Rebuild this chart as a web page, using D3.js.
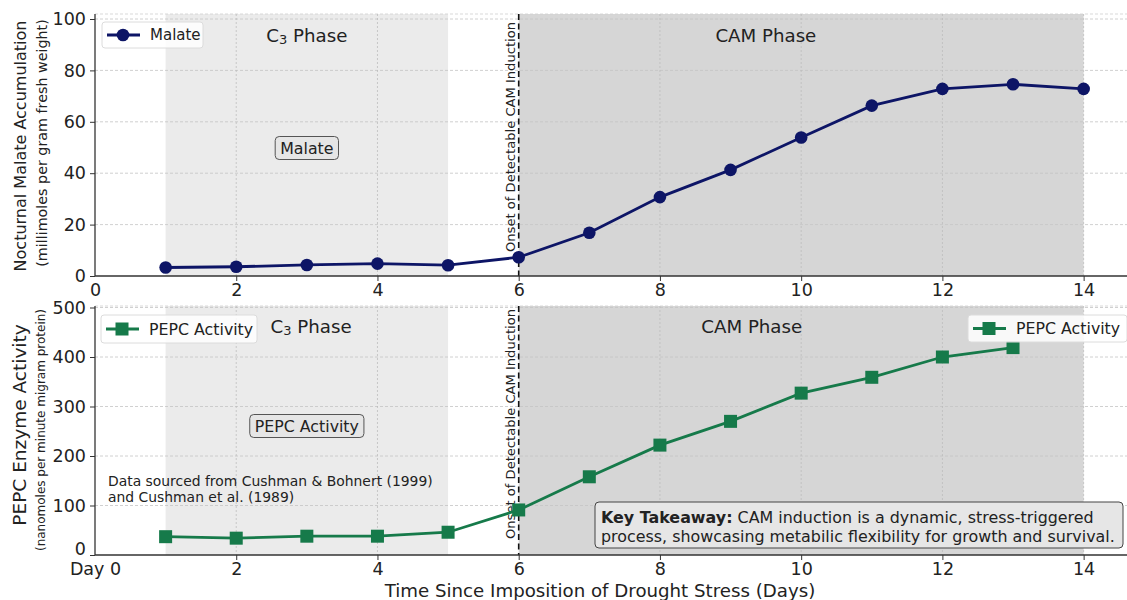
<!DOCTYPE html>
<html><head><meta charset="utf-8">
<script src="https://cdn.jsdelivr.net/npm/d3@7"></script>
<style>body{margin:0;background:#fff} svg{display:block;font-family:"DejaVu Sans",sans-serif}</style>
</head><body><svg id="c" width="1127" height="600"></svg>
<script>
const malateDays = [1,2,3,4,5,6,7,8,9,10,11,12,13,14];
const malate = [3.3,3.6,4.3,4.8,4.2,7.3,16.8,30.7,41.3,53.9,66.3,72.8,74.6,72.8];
const pepcDays = [1,2,3,4,5,6,7,8,9,10,11,12,13];
const pepc = [37,34,38,38,46,91,158,222,270,327,359,400,419];
const xTicks = [0,2,4,6,8,10,12,14];
const malateTicks = [0,20,40,60,80,100];
const pepcTicks = [0,100,200,300,400,500];
const phaseNames = ["C3","CAM"];
const phaseStart = [1,6];
const phaseEnd = [5,14];
const phaseFill = ["#ebebeb","#d6d6d6"];
const onsetDay = 6;

const svg = d3.select("#c");
const x = d3.scaleLinear().domain([0,14.6]).range([95,1126]);
const navy = "#0d1566", green = "#167a4a";

const panels = [
  {top:14, bottom:276, y:d3.scaleLinear().domain([0,100]).range([276,19]), ticks:malateTicks,
   xs:malateDays, vals:malate, color:navy, marker:"circle", zeroLabel:"0",
   phaseLabelX:[3,9.5], phaseLabelY:35, boxText:"Malate", boxY:148, onsetY:137},
  {top:306, bottom:555, y:d3.scaleLinear().domain([0,500]).range([555,307.5]), ticks:pepcTicks,
   xs:pepcDays, vals:pepc, color:green, marker:"square", zeroLabel:"Day 0",
   phaseLabelX:[3.06,9.3], phaseLabelY:326, boxText:"PEPC Activity", boxY:426, onsetY:424}
];

panels.forEach((p,pi)=>{
  const g = svg.append("g");
  phaseNames.forEach((n,i)=>{
    g.append("rect").attr("x",x(phaseStart[i])).attr("y",p.top)
      .attr("width",x(phaseEnd[i])-x(phaseStart[i])).attr("height",p.bottom-p.top)
      .attr("fill",phaseFill[i]);
  });
  g.append("line").attr("x1",x(0)).attr("x2",1127).attr("y1",p.top).attr("y2",p.top)
    .attr("stroke","#cfcfcf").attr("stroke-dasharray","3,2").attr("stroke-width",0.8);
  p.ticks.filter(t=>t>0).forEach(t=>{
    g.append("line").attr("x1",x(0)).attr("x2",1127).attr("y1",p.y(t)).attr("y2",p.y(t))
      .attr("stroke","#c4c4c4").attr("stroke-dasharray","3,2").attr("stroke-width",0.8);
  });
  xTicks.filter(t=>t>0 && t!==onsetDay).forEach(t=>{
    g.append("line").attr("x1",x(t)).attr("x2",x(t)).attr("y1",p.top).attr("y2",p.bottom)
      .attr("stroke","#b8b8b8").attr("stroke-dasharray","2,2").attr("stroke-width",0.7);
  });
  g.append("line").attr("x1",x(onsetDay)).attr("x2",x(onsetDay)).attr("y1",p.top).attr("y2",p.bottom)
    .attr("stroke","#111").attr("stroke-width",1.6).attr("stroke-dasharray","6,3.5");
  g.append("text").attr("transform",`translate(${x(onsetDay)-8.5},${p.onsetY}) rotate(-90)`)
    .attr("text-anchor","middle").attr("dominant-baseline","central")
    .attr("font-size",13.1).attr("fill","#222").text("Onset of Detectable CAM Induction");
  phaseNames.forEach((n,i)=>{
    const t = g.append("text").attr("x",x(p.phaseLabelX[i])).attr("y",p.phaseLabelY)
      .attr("text-anchor","middle").attr("dominant-baseline","central")
      .attr("font-size",18.2).attr("fill","#222");
    if(n==="C3"){
      t.append("tspan").text("C");
      t.append("tspan").attr("font-size",13).attr("dy",4).text("3");
      t.append("tspan").attr("dy",-4).text(" Phase");
    } else t.text(n+" Phase");
  });
  const bt = g.append("text").attr("x",x(3)).attr("y",p.boxY).attr("text-anchor","middle")
    .attr("dominant-baseline","central").attr("font-size",15.8).attr("fill","#222").text(p.boxText);
  const bb = bt.node().getBBox();
  g.insert("rect","text:last-of-type").attr("x",bb.x-5).attr("y",bb.y-2).attr("width",bb.width+10)
    .attr("height",bb.height+4).attr("rx",4).attr("fill","#e6e6e6").attr("stroke","#555").attr("stroke-width",1);
  bt.raise();
  const yAxis = d3.axisLeft(p.y).tickValues(p.ticks).tickSize(5).tickPadding(4);
  const ya = g.append("g").attr("transform",`translate(${x(0)},0)`).call(yAxis);
  ya.select(".domain").attr("d",`M-0,${p.top}V${p.bottom}`).attr("stroke","#333").attr("stroke-width",1.3);
  ya.selectAll("text").attr("font-size",17.5).attr("fill","#222").attr("font-family","DejaVu Sans");
  ya.selectAll(".tick line").attr("stroke","#333");
  if(pi===1) ya.selectAll(".tick").filter(d=>d===0).select("text").attr("dy","-0.05em");
  const xAxis = d3.axisBottom(x).tickValues(xTicks).tickSize(5).tickPadding(3)
    .tickFormat(d=> d===0 ? p.zeroLabel : d);
  const xa = g.append("g").attr("transform",`translate(0,${p.bottom})`).call(xAxis);
  xa.select(".domain").attr("d",`M${x(0)},0H1127`).attr("stroke","#333").attr("stroke-width",1.3);
  xa.selectAll("text").attr("font-size",17.5).attr("fill","#222").attr("font-family","DejaVu Sans");
  xa.selectAll(".tick line").attr("stroke","#333");
  xa.selectAll(".tick").filter(d=>d===0).select("line").remove();
  const line = d3.line().x((d,i)=>x(p.xs[i])).y(d=>p.y(d));
  g.append("path").datum(p.vals).attr("d",line).attr("fill","none").attr("stroke",p.color).attr("stroke-width",2.8);
  if(p.marker==="circle"){
    g.selectAll("circle.m").data(p.vals).enter().append("circle").attr("class","m")
      .attr("cx",(d,i)=>x(p.xs[i])).attr("cy",d=>p.y(d)).attr("r",6.3).attr("fill",p.color);
  } else {
    g.selectAll("rect.m").data(p.vals).enter().append("rect").attr("class","m")
      .attr("x",(d,i)=>x(p.xs[i])-6.5).attr("y",d=>p.y(d)-6.5).attr("width",13).attr("height",13).attr("fill",p.color);
  }
});

function legend(x0,y0,w,h,label,color,marker){
  const g = svg.append("g");
  g.append("rect").attr("x",x0).attr("y",y0).attr("width",w).attr("height",h).attr("rx",3)
    .attr("fill","#ffffff").attr("fill-opacity",0.85).attr("stroke","#dcdcdc");
  const cy = y0+h/2;
  g.append("line").attr("x1",x0+5).attr("x2",x0+38).attr("y1",cy).attr("y2",cy).attr("stroke",color).attr("stroke-width",2.8);
  if(marker==="circle") g.append("circle").attr("cx",x0+21).attr("cy",cy).attr("r",6.3).attr("fill",color);
  else g.append("rect").attr("x",x0+21-6.5).attr("y",cy-6.5).attr("width",13).attr("height",13).attr("fill",color);
  g.append("text").attr("x",x0+48).attr("y",cy).attr("dominant-baseline","central").attr("font-size",label==="Malate"?15:15.8).attr("fill","#222").text(label);
}
legend(102,22,101,26,"Malate",navy,"circle");
legend(101,315,156,28,"PEPC Activity",green,"square");
legend(968,315,159,27,"PEPC Activity",green,"square");

const src = svg.append("text").attr("x",108).attr("font-size",13.9).attr("fill","#222");
src.append("tspan").attr("x",108).attr("y",486).text("Data sourced from Cushman & Bohnert (1999)");
src.append("tspan").attr("x",108).attr("y",502).text("and Cushman et al. (1989)");

svg.append("rect").attr("x",595).attr("y",502).attr("width",528).attr("height",46).attr("rx",4)
  .attr("fill","#e6e6e6").attr("stroke","#444").attr("stroke-width",1);
const kt = svg.append("text").attr("font-size",15.9).attr("fill","#222");
const l1 = kt.append("tspan").attr("x",601).attr("y",523);
l1.append("tspan").attr("font-weight","bold").text("Key Takeaway:");
l1.append("tspan").text(" CAM induction is a dynamic, stress-triggered");
kt.append("tspan").attr("x",601).attr("y",542).text("process, showcasing metabilic flexibility for growth and survival.");

svg.append("text").attr("x",600).attr("y",590).attr("text-anchor","middle").attr("dominant-baseline","central")
  .attr("font-size",18.2).attr("fill","#222").text("Time Since Imposition of Drought Stress (Days)");
function ylab(cx,cy,size,txt){
  svg.append("text").attr("transform",`translate(${cx},${cy}) rotate(-90)`).attr("text-anchor","middle")
    .attr("dominant-baseline","central").attr("font-size",size).attr("fill","#222").text(txt);
}
ylab(20,146,16,"Nocturnal Malate Accumulation");
ylab(42,143,14.3,"(millimoles per gram fresh weight)");
ylab(19,425,18.5,"PEPC Enzyme Activity");
ylab(41,430,12,"(nanomoles per minute migram protein)");
</script></body></html>
